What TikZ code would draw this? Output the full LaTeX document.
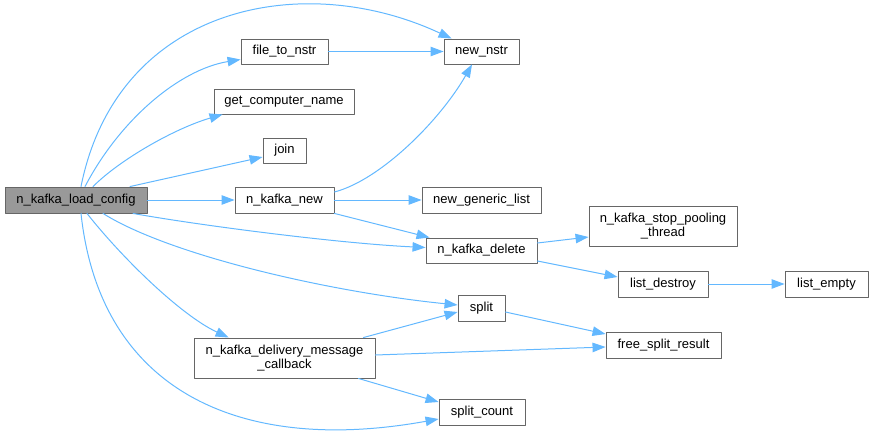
\documentclass[tikz,border=0pt]{standalone}
\usepackage{fontspec}
\setmainfont{Liberation Sans}
\usepackage{tikz}
\usetikzlibrary{arrows.meta}
\definecolor{edgeblue}{HTML}{63B8FF}
\definecolor{boxgray}{HTML}{666666}
\definecolor{mainfill}{HTML}{999999}

\begin{document}
\begin{tikzpicture}[line cap=round,line join=round,>={Triangle[length=13pt,width=9.5pt]},x=1pt,y=-1pt,
  fn/.style={draw=boxgray,line width=0.9pt,inner sep=0pt,align=center,font=\fontsize{13}{14}\selectfont},
  call/.style={->,draw=edgeblue,line width=1pt}]
\useasboundingbox (0,0) rectangle (873,433);
\node[fn,fill=mainfill,minimum width=142pt,minimum height=26pt] (loadcfg) at (76,200) {n\_kafka\_load\_config};
\node[fn,minimum width=87pt,minimum height=25pt] (filetonstr) at (284.5,51.5) {file\_to\_nstr};
\node[fn,minimum width=140pt,minimum height=25pt] (getname) at (284,101.5) {get\_computer\_name};
\node[fn,minimum width=43pt,minimum height=25pt] (join) at (284.5,150.5) {join};
\node[fn,minimum width=99pt,minimum height=26pt] (kfnew) at (284.5,200) {n\_kafka\_new};
\node[fn,minimum width=181pt,minimum height=40pt] (delivery) at (284.5,358) {n\_kafka\_delivery\_message\\\_callback};
\node[fn,minimum width=75pt,minimum height=25pt] (newnstr) at (481.5,51.5) {new\_nstr};
\node[fn,minimum width=119pt,minimum height=26pt] (genlist) at (481.5,200) {new\_generic\_list};
\node[fn,minimum width=111pt,minimum height=25pt] (kfdelete) at (481.5,250.5) {n\_kafka\_delete};
\node[fn,minimum width=47pt,minimum height=26pt] (split) at (481.5,308) {split};
\node[fn,minimum width=86pt,minimum height=26pt] (splitcount) at (482,412) {split\_count};
\node[fn,minimum width=148pt,minimum height=40pt] (stoppool) at (663,226) {n\_kafka\_stop\_pooling\\\_thread};
\node[fn,minimum width=90pt,minimum height=26pt] (lstdestroy) at (663,284) {list\_destroy};
\node[fn,minimum width=115pt,minimum height=26pt] (freesplit) at (663.5,345) {free\_split\_result};
\node[fn,minimum width=83pt,minimum height=26pt] (lstempty) at (826.5,284) {list\_empty};
% calls of n_kafka_load_config
\draw[call] ([shift={(5,0)}]loadcfg.north) .. controls +(36,-180) and +(-150,-70) .. ([shift={(8,0)}]newnstr.north west);
\draw[call] ([shift={(9,0)}]loadcfg.north) .. controls +(35,-67) and +(-61,10) .. ([shift={(0,8)}]filetonstr.west);
\draw[call] ([shift={(17,0)}]loadcfg.north) .. controls +(27,-27) and +(-48,14) .. ([shift={(9,0)}]getname.south west);
\draw[call] ([shift={(54,0)}]loadcfg.north) -- ([shift={(0,6.5)}]join.west);
\draw[call] (loadcfg.east) -- (kfnew.west);
\draw[call] ([shift={(57,0)}]loadcfg.south) .. controls +(67,12) and +(-86,-4) .. ([shift={(0,-3)}]kfdelete.west);
\draw[call] ([shift={(27,0)}]loadcfg.south) .. controls +(67,42) and +(-128,-13) .. ([shift={(0,-3)}]split.west);
\draw[call] ([shift={(11,0)}]loadcfg.south) .. controls +(33,42) and +(-49,-23) .. ([shift={(35,0)}]delivery.north west);
\draw[call] ([shift={(5,0)}]loadcfg.south) .. controls +(19,177) and +(-199,36) .. ([shift={(0,7)}]splitcount.west);
% calls of n_kafka_new
\draw[call] ([shift={(0,-8)}]kfnew.east) .. controls +(46,-12) and +(-32,56) .. ([shift={(-9.5,0)}]newnstr.south);
\draw[call] (kfnew.east) -- (genlist.west);
\draw[call] (kfnew.south east) -- ([shift={(4,0)}]kfdelete.north west);
% the rest
\draw[call] (filetonstr.east) -- (newnstr.west);
\draw[call] ([shift={(0,-7.5)}]kfdelete.east) -- ([shift={(0,11)}]stoppool.west);
\draw[call] ([shift={(0,10.5)}]kfdelete.east) -- ([shift={(0,-7)}]lstdestroy.west);
\draw[call] (lstdestroy.east) -- (lstempty.west);
\draw[call] ([shift={(0,4)}]split.east) -- ([shift={(0,-11)}]freesplit.west);
\draw[call] ([shift={(-12,0)}]delivery.north east) -- ([shift={(0,4)}]split.west);
\draw[call] ([shift={(0,-3)}]delivery.east) -- ([shift={(0,2)}]freesplit.west);
\draw[call] ([shift={(-17,0)}]delivery.south east) -- ([shift={(0,-10)}]splitcount.west);
\end{tikzpicture}
\end{document}
